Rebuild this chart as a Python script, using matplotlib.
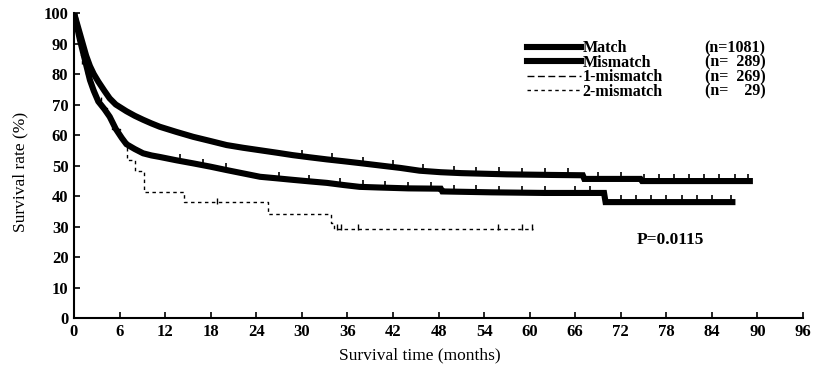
import numpy as np
import matplotlib.pyplot as plt

plt.rcParams['font.family'] = ['Liberation Serif', 'DejaVu Serif']

# Kaplan-Meier curves (months, % surviving)
match_t = [0, 0.4, 0.8, 1.2, 1.6, 2.1, 2.6, 3.2, 4.0, 4.7, 5.5, 6.9, 8.0, 9.1, 10.2, 11.3,
           13.5, 15.7, 18.0, 20.1, 22.3, 24.5, 26.7, 28.8, 31.0, 33.3, 35.5, 37.6, 40.3,
           43.0, 45.5, 48.3, 51.0, 54.0, 57.0, 60.0, 63.0, 67.0, 67.2, 74.6, 74.8, 89.0]
match_s = [100, 96.5, 93.0, 89.5, 86.0, 82.6, 80.0, 77.5, 74.5, 72.0, 70.0, 67.8, 66.3, 65.0,
           63.8, 62.7, 61.0, 59.4, 58.0, 56.7, 55.8, 55.0, 54.2, 53.4, 52.7, 52.0, 51.4, 50.8,
           50.0, 49.2, 48.3, 47.8, 47.5, 47.3, 47.1, 47.0, 46.9, 46.8, 45.6, 45.6, 44.9, 44.9]

mism_t = [0, 0.4, 0.8, 1.2, 1.6, 2.1, 2.6, 3.2, 4.0, 4.7, 5.5, 6.3, 6.9, 8.0, 9.1, 10.2,
          11.3, 13.5, 15.7, 18.0, 20.1, 22.3, 24.5, 26.7, 28.8, 31.0, 33.3, 35.5, 37.6,
          40.0, 44.0, 48.3, 48.5, 55.0, 62.0, 69.8, 70.0, 86.7]
mism_s = [100, 95.5, 91.0, 87.0, 83.0, 78.0, 74.5, 71.0, 68.5, 66.0, 62.0, 59.0, 57.0, 55.4,
          54.0, 53.3, 52.8, 51.7, 50.7, 49.6, 48.5, 47.4, 46.3, 45.8, 45.3, 44.8, 44.3, 43.6,
          43.0, 42.8, 42.5, 42.4, 41.5, 41.2, 41.0, 41.0, 38.0, 38.0]

one_t = [0, 0.4, 0.8, 1.2, 1.6, 2.1, 2.6, 3.2, 4.0, 4.7, 5.5, 6.3, 6.9, 8.0, 9.1, 10.2,
         11.3, 13.5, 15.7, 18.0, 20.1, 22.3, 24.5, 26.7, 28.8, 31.0, 33.3, 35.5, 37.6,
         40.0, 44.0, 48.3, 48.5, 55.0, 62.0, 69.8, 70.0, 86.7]
one_s = [100, 95.6, 91.2, 87.2, 83.2, 78.3, 74.8, 71.3, 68.8, 66.3, 62.3, 59.3, 57.3, 55.7,
         54.3, 53.6, 53.1, 52.0, 51.0, 49.9, 48.8, 47.7, 46.6, 46.1, 45.6, 45.1, 44.6, 43.9,
         43.3, 43.1, 42.8, 42.7, 41.8, 41.5, 41.3, 41.3, 38.3, 38.3]

two_t = [0, 0.3, 0.5, 0.7, 0.9, 1.1, 1.6, 2.2, 2.8, 3.5, 4.3, 5.0, 6.0, 7.0, 8.0, 9.2,
         14.5, 25.5, 33.8, 34.3, 60.5]
two_s = [100, 96.6, 93.1, 89.7, 86.2, 82.8, 79.3, 75.9, 72.4, 69.0, 65.5, 62.1, 58.6,
         51.7, 48.3, 41.4, 37.9, 34.2, 31.1, 29.3, 29.3]

# censored observations (tick marks)
match_cens = [30, 34, 38, 42, 46, 50, 53, 56, 59, 62, 65, 69, 72, 75, 77, 79, 81, 83, 85, 87, 88.8]
mism_cens = [14, 17, 20, 27, 31, 35, 38, 41, 44, 47, 50, 53, 56, 59, 62, 66, 68, 72, 74, 76,
             78, 80, 82, 84, 86.5]
two_cens = [18.8, 34.6, 35.2, 37.4, 55.8, 59.0, 60.3]

names = ['Match', 'Mismatch', '1-mismatch', '2-mismatch']
counts = ['(n=1081)', '(n=  289)', '(n=  269)', '(n=    29)']

fig = plt.figure(figsize=(8.15, 3.69), dpi=100)
ax = fig.add_axes([74 / 815, 1 - 318 / 369, 729 / 815, 305 / 369])

l3, = ax.plot(one_t, one_s, color='black', lw=1.0, ls=(0, (5, 2.5)))
l1, = ax.plot(match_t, match_s, color='black', lw=4.4, solid_joinstyle='miter')
l2, = ax.plot(mism_t, mism_s, color='black', lw=4.4, solid_joinstyle='miter')
l4, = ax.plot(two_t, two_s, drawstyle='steps-post', color='black', lw=1.0, ls=(0, (2.5, 2.5)))

ax.plot(match_cens, np.interp(match_cens, match_t, match_s) + 1.2, ls='none',
        marker='|', ms=5, mew=1.2, color='black')
ax.plot(mism_cens, np.interp(mism_cens, mism_t, mism_s) + 1.2, ls='none',
        marker='|', ms=5, mew=1.2, color='black')
two_idx = np.searchsorted(two_t, two_cens, side='right') - 1
ax.plot(two_cens, np.array(two_s)[two_idx] + 0.6, ls='none',
        marker='|', ms=4, mew=1.0, color='black')

ax.set_xlim(0, 96)
ax.set_ylim(0, 100)
ax.set_xticks(np.arange(0, 97, 6))
ax.set_yticks(np.arange(0, 101, 10))
ax.spines['top'].set_visible(False)
ax.spines['right'].set_visible(False)
for s in ['left', 'bottom']:
    ax.spines[s].set_linewidth(1.5)
ax.tick_params(direction='in', length=4, width=1.2, labelsize=12, pad=4)
for lab in ax.get_xticklabels() + ax.get_yticklabels():
    lab.set_fontweight('bold')

ax.set_xlabel('Survival time (months)', fontsize=12.5)
ax.set_ylabel('Survival rate (%)', fontsize=12.5)
ax.xaxis.set_label_coords(0.475, -0.095)
ax.yaxis.set_label_coords(-0.062, 0.48)

leg_font = {'size': 11.5, 'weight': 'bold'}
leg1 = ax.legend([l1, l2, l3, l4], names, loc='upper left', bbox_to_anchor=(0.622, 0.91),
                 frameon=False, prop=leg_font, handlelength=3.35, handletextpad=0.1,
                 labelspacing=-0.1, borderpad=0, borderaxespad=0)
ax.add_artist(leg1)
blank = [plt.Line2D([], [], lw=0) for _ in counts]
ax.legend(blank, counts, loc='upper left', bbox_to_anchor=(0.865, 0.91), frameon=False,
          prop=leg_font, handlelength=0, handletextpad=0, labelspacing=-0.1,
          borderpad=0, borderaxespad=0)

ax.text(0.772, 0.256, 'P=0.0115', transform=ax.transAxes, fontsize=12.5,
        fontweight='bold', va='center')

fig.savefig('out.png', dpi=100)
